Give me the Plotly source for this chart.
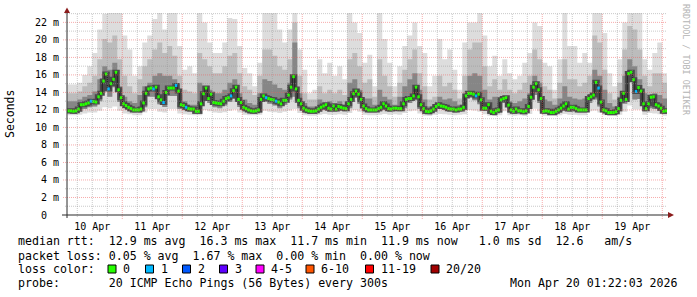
import plotly.graph_objects as go
import pandas as pd

# ---------------- data ----------------
start_time = "2026-04-10 02:00"
range_start = "2026-04-10 01:53"
range_end = "2026-04-20 01:53"

# hourly median RTT (ms)
median_ms = [
    11.9, 11.9, 11.85, 11.9, 12.1, 12.6, 12.6, 12.7, 12.8, 13.0,
    12.95, 12.9, 13.5, 13.9, 15.3, 16.1, 14.4, 15.0, 15.5, 16.3,
    14.3, 13.4, 12.7, 12.5, 12.3, 12.15, 12.0, 12.0, 12.0, 12.1,
    12.8, 13.9, 14.4, 14.5, 14.4, 14.6, 13.5, 13.15, 12.85, 14.0,
    14.5, 14.5, 14.5, 14.8, 14.15, 12.6, 12.5, 12.3, 12.15, 12.1,
    12.1, 11.85, 11.85, 12.7, 13.85, 14.5, 13.3, 13.8, 12.85, 12.8,
    12.75, 12.7, 13.0, 13.3, 13.4, 13.6, 14.2, 14.6, 13.2, 12.85,
    12.3, 12.15, 12.0, 11.9, 11.85, 11.9, 12.0, 13.2, 13.6, 13.4,
    13.3, 13.2, 13.15, 13.0, 12.9, 12.7, 13.1, 13.1, 13.7, 14.6,
    15.8, 14.4, 13.1, 12.7, 12.2, 12.0, 11.9, 11.85, 11.85, 11.9,
    12.1, 12.3, 12.45, 12.6, 12.2, 12.1, 12.45, 12.1, 12.4, 12.3,
    12.2, 12.15, 12.7, 13.2, 13.85, 14.15, 13.8, 13.2, 12.45, 12.15,
    12.0, 12.0, 12.0, 12.0, 12.15, 12.3, 12.7, 12.45, 12.15, 12.1,
    12.2, 12.2, 12.15, 12.15, 12.7, 13.2, 13.3, 13.3, 13.6, 14.6,
    13.5, 12.6, 12.15, 11.85, 11.8, 11.9, 12.1, 12.4, 12.6, 12.45,
    12.4, 12.3, 12.15, 12.1, 12.1, 12.0, 12.1, 12.1, 12.3, 13.6,
    13.9, 13.9, 13.8, 13.6, 13.8, 13.15, 12.2, 12.2, 12.6, 11.85,
    11.7, 11.9, 12.0, 13.15, 13.3, 13.4, 12.55, 12.0, 11.85, 12.1,
    11.9, 11.9, 11.8, 11.9, 12.4, 13.45, 14.6, 15.0, 14.3, 13.3,
    11.85, 11.9, 11.85, 11.7, 11.7, 11.85, 12.0, 12.2, 12.45, 12.7,
    12.1, 12.3, 12.3, 12.15, 12.0, 12.0, 12.0, 12.0, 13.3, 13.5,
    13.7, 15.15, 14.5, 12.9, 12.0, 11.9, 11.7, 11.7, 11.7, 11.8,
    12.15, 13.1, 13.9, 13.2, 16.15, 16.3, 15.45, 14.1, 14.55, 14.15,
    12.7, 12.15, 12.7, 13.45, 13.5, 12.6, 12.45, 12.2, 11.85, 11.9,
]
# hours (index into median_ms) where 1 of 20 pings was lost
loss_one_hours = [9, 16, 34, 38, 43, 47, 65, 79, 83, 163, 212, 227]

# smoke, 2-hour bins (ms)
smoke_max = [
    14.9, 14.9, 15.1, 16.0, 17.0, 18.5, 21.2, 23.0, 23.1, 23.1,
    23.1, 20.5, 18.9, 15.9, 17.0, 19.7, 20.5, 22.4, 23.1, 21.2,
    23.1, 23.1, 19.3, 16.6, 17.0, 16.2, 23.1, 22.0, 19.7, 18.5,
    18.5, 19.7, 22.5, 22.4, 19.3, 16.8, 16.2, 14.7, 17.4, 23.1,
    23.1, 23.1, 21.2, 19.7, 21.2, 23.1, 18.9, 16.6, 13.9, 14.3,
    17.8, 16.2, 17.4, 15.9, 17.0, 15.5, 23.1, 22.0, 20.8, 17.4,
    18.3, 14.7, 23.1, 20.1, 17.4, 14.7, 17.0, 19.3, 20.5, 22.0,
    19.3, 18.5, 14.7, 15.9, 20.1, 17.8, 18.9, 16.6, 14.3, 19.7,
    22.0, 22.0, 23.1, 20.5, 17.0, 18.2, 15.9, 17.8, 16.2, 15.5,
    15.9, 17.4, 18.5, 22.0, 21.6, 17.4, 17.0, 14.3, 17.8, 23.1,
    19.3, 19.3, 17.4, 18.5, 17.4, 23.1, 23.1, 20.8, 16.2, 14.7,
    17.8, 22.0, 23.1, 23.1, 23.1, 17.8, 16.6, 18.5, 19.7, 16.2,
]
smoke_p90 = [
    13.9, 13.9, 14.1, 14.7, 15.1, 15.9, 17.8, 20.1, 19.7, 20.5,
    17.8, 15.9, 14.7, 13.9, 15.5, 17.0, 17.8, 18.9, 19.7, 18.5,
    19.3, 18.2, 15.9, 14.3, 14.1, 13.9, 18.5, 17.8, 17.0, 16.2,
    16.2, 17.0, 18.2, 18.5, 16.2, 14.7, 14.3, 13.7, 15.9, 18.9,
    18.9, 18.2, 17.0, 16.6, 17.8, 22.0, 15.9, 13.9, 13.2, 13.2,
    14.7, 13.9, 14.3, 13.9, 14.3, 13.7, 17.8, 18.5, 17.0, 15.1,
    15.5, 13.5, 17.8, 15.9, 14.7, 13.5, 15.1, 16.6, 17.8, 18.9,
    16.2, 14.7, 13.2, 13.5, 15.9, 14.7, 15.1, 14.3, 13.3, 15.9,
    18.9, 19.7, 19.7, 17.0, 14.7, 15.5, 14.3, 15.5, 14.3, 13.9,
    14.3, 15.1, 15.9, 18.9, 17.8, 14.7, 14.3, 13.3, 15.1, 17.8,
    15.5, 15.5, 14.7, 15.1, 15.9, 20.5, 19.7, 16.6, 13.9, 13.2,
    15.1, 18.9, 21.6, 21.2, 18.9, 15.9, 14.7, 16.2, 16.2, 15.1,
]
smoke_p75 = [
    13.0, 13.0, 13.2, 13.5, 13.7, 14.1, 15.5, 17.0, 16.6, 17.4,
    14.7, 13.5, 13.0, 12.8, 13.7, 14.7, 15.1, 15.9, 16.2, 15.9,
    15.9, 15.5, 13.7, 13.0, 12.6, 12.6, 15.1, 14.7, 14.3, 13.9,
    13.9, 14.3, 15.1, 15.5, 13.9, 13.2, 12.8, 12.6, 13.9, 15.5,
    15.3, 14.9, 14.5, 14.3, 15.1, 19.7, 13.9, 12.8, 12.4, 12.4,
    13.2, 12.8, 13.0, 12.8, 13.0, 12.6, 15.1, 15.5, 14.3, 13.3,
    13.3, 12.6, 14.3, 13.5, 13.2, 12.6, 13.5, 14.7, 15.5, 16.2,
    14.3, 13.2, 12.4, 12.6, 13.5, 13.2, 13.3, 13.0, 12.6, 13.5,
    15.9, 16.2, 15.9, 14.3, 13.2, 13.5, 13.0, 13.5, 13.0, 12.8,
    13.0, 13.3, 13.9, 15.9, 15.1, 13.2, 13.0, 12.6, 13.3, 14.7,
    13.5, 13.3, 13.2, 13.3, 13.7, 16.6, 15.9, 14.3, 12.8, 12.4,
    13.5, 15.9, 17.8, 17.0, 15.5, 13.9, 13.2, 13.9, 13.7, 13.3,
]
smoke_p25 = [
    11.6, 11.55, 11.8, 12.1, 12.3, 12.4, 13.0, 14.4, 13.5, 14.6,
    12.9, 12.2, 11.85, 11.7, 11.7, 12.3, 13.5, 13.5, 12.65, 12.35,
    13.6, 13.6, 12.1, 12.0, 11.8, 11.55, 11.55, 13.35, 12.8, 12.3,
    12.2, 12.5, 12.9, 13.3, 12.35, 11.85, 11.6, 11.55, 11.7, 12.9,
    12.7, 12.5, 12.2, 12.6, 13.2, 13.5, 12.2, 11.7, 11.55, 11.55,
    11.8, 12.15, 11.8, 11.8, 12.0, 11.85, 12.2, 13.35, 12.7, 11.85,
    11.7, 11.7, 11.85, 12.15, 11.8, 11.9, 11.85, 12.2, 12.8, 13.1,
    12.1, 11.55, 11.5, 11.8, 12.15, 12.0, 11.8, 11.7, 11.8, 12.0,
    13.4, 13.1, 12.65, 11.9, 11.55, 11.4, 11.7, 12.8, 11.7, 11.55,
    11.6, 11.5, 12.1, 13.7, 12.8, 11.55, 11.4, 11.4, 11.7, 12.15,
    11.8, 11.85, 11.7, 11.7, 12.8, 13.2, 12.4, 11.6, 11.4, 11.4,
    11.85, 12.7, 15.25, 13.2, 13.25, 11.85, 12.2, 12.1, 11.9, 11.55,
]
smoke_min = [
    11.4, 11.4, 11.45, 11.6, 11.7, 11.7, 11.9, 12.3, 12.2, 12.4,
    11.9, 11.6, 11.5, 11.4, 11.4, 11.7, 12.1, 12.1, 11.8, 11.7,
    12.1, 12.1, 11.6, 11.5, 11.45, 11.4, 11.4, 12.0, 11.85, 11.7,
    11.65, 11.75, 11.9, 12.05, 11.7, 11.45, 11.4, 11.4, 11.45, 11.9,
    11.8, 11.75, 11.65, 11.8, 11.95, 12.1, 11.65, 11.4, 11.35, 11.35,
    11.45, 11.55, 11.45, 11.45, 11.5, 11.45, 11.65, 12.0, 11.8, 11.45,
    11.4, 11.4, 11.45, 11.55, 11.45, 11.5, 11.45, 11.65, 11.85, 11.95,
    11.6, 11.35, 11.3, 11.45, 11.55, 11.5, 11.45, 11.4, 11.45, 11.5,
    12.0, 11.95, 11.8, 11.5, 11.35, 11.3, 11.4, 11.85, 11.4, 11.35,
    11.4, 11.3, 11.55, 12.15, 11.85, 11.35, 11.3, 11.3, 11.4, 11.55,
    11.45, 11.45, 11.4, 11.4, 11.85, 11.95, 11.7, 11.4, 11.3, 11.3,
    11.45, 11.8, 12.5, 12.05, 12.05, 11.45, 11.65, 11.6, 11.5, 11.35,
]

y_tick_vals = [0, 2, 4, 6, 8, 10, 12, 14, 16, 18, 20, 22]
y_tick_text = ["0\u00a0\u00a0", "2 m", "4 m", "6 m", "8 m", "10 m", "12 m",
               "14 m", "16 m", "18 m", "20 m", "22 m"]
day_labels = ["10 Apr", "11 Apr", "12 Apr", "13 Apr", "14 Apr",
              "15 Apr", "16 Apr", "17 Apr", "18 Apr", "19 Apr"]
loss_labels = ["0", "1", "2", "3", "4-5", "6-10", "11-19", "20/20"]
loss_colors = ["#26ff00", "#00b8ff", "#0059ff", "#5e00ff",
               "#ff00fe", "#ff5500", "#ff0000", "#a10000"]

stats_line1 = "median rtt:  12.9 ms avg  16.3 ms max  11.7 ms min  11.9 ms now   1.0 ms sd  12.6   am/s"
stats_line2 = "packet loss: 0.05 % avg  1.67 % max  0.00 % min  0.00 % now"
probe_line = "probe:       20 ICMP Echo Pings (56 Bytes) every 300s"
stamp = "Mon Apr 20 01:22:03 2026"

# ---------------- layout geometry ----------------
W, H = 697, 297
L, R, T, B = 67, 667, 13, 215
PX_PER_MS = 8.755
Y_TOP = (B - T) / PX_PER_MS
MONO = "DejaVu Sans Mono"


def px_x(px):
    return (px - L) / (R - L)


def px_y(py):
    return (B - py) / (B - T)


hour_edges = list(pd.date_range(start_time, periods=len(median_ms) + 1, freq="h"))
bin_edges = list(pd.date_range(start_time, periods=len(smoke_max) + 1, freq="2h"))


def step(vals):
    return list(vals) + [vals[-1]]


fig = go.Figure()


def band(lo, hi, color):
    fig.add_trace(go.Scatter(x=bin_edges, y=step(lo), mode="lines",
                             line=dict(width=0, shape="hv"),
                             hoverinfo="skip", showlegend=False))
    fig.add_trace(go.Scatter(x=bin_edges, y=step(hi), mode="lines",
                             line=dict(width=0, shape="hv"), fill="tonexty",
                             fillcolor=color, hoverinfo="skip", showlegend=False))


band(smoke_min, smoke_max, "#dddddd")
band(smoke_p25, smoke_p90, "#bcbcbc")
band(smoke_p25, smoke_p75, "#868686")

# dark core around the median
fig.add_trace(go.Scatter(x=hour_edges, y=step(median_ms), mode="lines",
                         line=dict(color="#4a4a4a", width=5, shape="hv"),
                         hoverinfo="skip", showlegend=False))
fig.add_trace(go.Scatter(x=hour_edges, y=step(median_ms), mode="lines",
                         line=dict(color="#202020", width=1, shape="hv"),
                         hoverinfo="skip", showlegend=False))

# loss-coloured median bars
loss_code = [1 if j in loss_one_hours else 0 for j in range(len(median_ms))]
for code, color in enumerate(loss_colors):
    xs, ys = [], []
    for j, m in enumerate(median_ms):
        if loss_code[j] == code:
            xs += [hour_edges[j], hour_edges[j + 1], None]
            ys += [m, m, None]
    if xs:
        fig.add_trace(go.Scatter(x=xs, y=ys, mode="lines",
                                 line=dict(color=color, width=3),
                                 hoverinfo="skip", showlegend=False))

shapes = []
# grid (drawn above smoke, dotted)
MINOR = "rgba(150,150,150,0.5)"
MAJOR = "rgba(240,90,90,0.5)"
for v in range(1, 24):
    if v > Y_TOP:
        break
    major = v in y_tick_vals
    shapes.append(dict(type="line", xref="paper", yref="y",
                       x0=px_x(L - (4 if major else 2)), x1=1, y0=v, y1=v,
                       line=dict(color=MAJOR if major else MINOR, width=1, dash="1px,1px"),
                       layer="above"))
for t in pd.date_range("2026-04-10 06:00", "2026-04-20 00:00", freq="6h"):
    major = t.hour == 0
    shapes.append(dict(type="line", xref="x", yref="paper",
                       x0=t, x1=t, y0=px_y(B + (4 if major else 2)), y1=1,
                       line=dict(color=MAJOR if major else MINOR, width=1, dash="1px,1px"),
                       layer="above"))
# axes lines and arrows
AXIS = "#2a2a2a"
ARROW = "#8b1c1c"
shapes.append(dict(type="line", xref="paper", yref="paper",
                   x0=px_x(L), x1=px_x(L), y0=px_y(B + 3), y1=px_y(11),
                   line=dict(color=AXIS, width=1)))
shapes.append(dict(type="line", xref="paper", yref="paper",
                   x0=px_x(L - 5), x1=px_x(670), y0=0, y1=0,
                   line=dict(color=AXIS, width=1)))
shapes.append(dict(type="path", xref="paper", yref="paper",
                   path=f"M {px_x(L - 3)},{px_y(13)} L {px_x(L + 3)},{px_y(13)} L {px_x(L)},{px_y(7.5)} Z",
                   fillcolor=ARROW, line=dict(color=ARROW, width=0)))
shapes.append(dict(type="path", xref="paper", yref="paper",
                   path=f"M {px_x(668)},{px_y(B - 3)} L {px_x(668)},{px_y(B + 3)} L {px_x(674)},{px_y(B)} Z",
                   fillcolor=ARROW, line=dict(color=ARROW, width=0)))

# legend squares for loss colours
square_left_px = [108, 145.5, 182.5, 219.5, 256, 306, 365.5, 431]
for sx, color in zip(square_left_px, loss_colors):
    shapes.append(dict(type="rect", xref="paper", yref="paper",
                       x0=px_x(sx), x1=px_x(sx + 8), y0=px_y(273), y1=px_y(265),
                       fillcolor=color, line=dict(color="#000000", width=1)))

annotations = []


def text(px, py, s, size=11.6, anchor="left", color="#000000", angle=0):
    annotations.append(dict(xref="paper", yref="paper", x=px_x(px), y=px_y(py),
                            text=s, showarrow=False, xanchor=anchor, yanchor="middle",
                            textangle=angle, font=dict(family=MONO, size=size, color=color)))


text(16, 241, stats_line1.replace(" ", "\u00a0"))
text(16, 255.5, stats_line2.replace(" ", "\u00a0"))
text(16, 269, "loss\u00a0color:")
for sx, lab in zip(square_left_px, loss_labels):
    text(sx + 13, 269, lab)
text(16, 283.3, probe_line.replace(" ", "\u00a0"))
text(680, 283.3, stamp.replace(" ", "\u00a0"), anchor="right")
annotations.append(dict(xref="paper", yref="paper", x=px_x(10), y=px_y(114),
                        text="Seconds", showarrow=False, textangle=-90,
                        xanchor="center", yanchor="middle",
                        font=dict(family=MONO, size=11.5, color="#000000")))
annotations.append(dict(xref="paper", yref="paper", x=px_x(686), y=px_y(60),
                        text="RRDTOOL / TOBI OETIKER", showarrow=False, textangle=90,
                        xanchor="center", yanchor="middle",
                        font=dict(family=MONO, size=8.4, color="#b4b4b4")))

noon_ticks = list(pd.date_range("2026-04-10 12:00", periods=len(day_labels), freq="D"))

fig.update_layout(
    width=W, height=H,
    margin=dict(l=L, r=W - R, t=T, b=H - B, pad=0),
    paper_bgcolor="#ffffff", plot_bgcolor="#ffffff",
    showlegend=False,
    hovermode=False,
    shapes=shapes,
    annotations=annotations,
    xaxis=dict(range=[range_start, range_end], type="date",
               tickmode="array", tickvals=noon_ticks, ticktext=day_labels,
               showgrid=False, zeroline=False, showline=False, ticks="",
               ticklabelstandoff=4,
               tickfont=dict(family=MONO, size=10, color="#000000")),
    yaxis=dict(range=[0, Y_TOP], tickmode="array", tickvals=y_tick_vals,
               ticktext=y_tick_text, showgrid=False, zeroline=False,
               showline=False, ticks="", ticklabelstandoff=7,
               tickfont=dict(family=MONO, size=10, color="#000000")),
)

fig.write_html("out.html", config={"displayModeBar": False})
